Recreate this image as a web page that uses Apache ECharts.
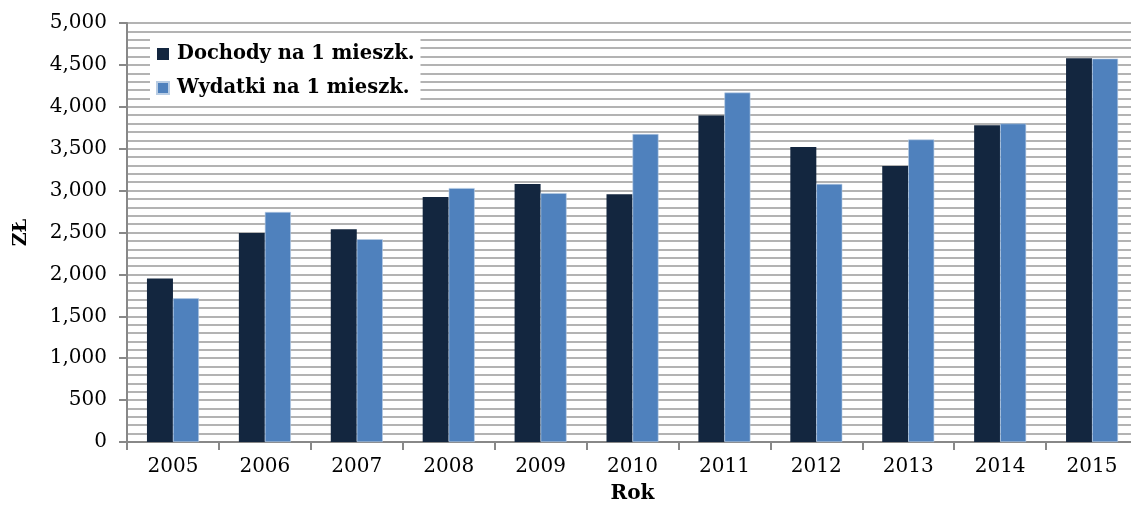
<!DOCTYPE html>
<html><head><meta charset="utf-8">
<script src="https://cdn.jsdelivr.net/npm/echarts@6/dist/echarts.min.js"></script>
<style>html,body{margin:0;padding:0;background:#fff}#c{width:1131px;height:506px}</style>
</head><body><div id="c"></div>
<script>
const categories = ['2005','2006','2007','2008','2009','2010','2011','2012','2013','2014','2015'];
const dochody = [1950, 2495, 2540, 2925, 3080, 2955, 3895, 3520, 3295, 3780, 4580];
const wydatki = [1715, 2745, 2420, 3030, 2970, 3675, 4170, 3080, 3610, 3800, 4575];
const seriesNames = ['Dochody na 1 mieszk.', 'Wydatki na 1 mieszk.'];
const FONT = 'DejaVu Serif';
const chart = echarts.init(document.getElementById('c'));
chart.setOption({
  animation: false,
  textStyle: {fontFamily: FONT},
  grid: {left: 127, top: 23, width: 1011, bottom: 64, outerBoundsMode: 'none', containLabel: false},
  legend: {
    orient: 'vertical', left: 150, top: 39, itemWidth: 12, itemHeight: 12, itemGap: 14,
    backgroundColor: '#fff', padding: [5, 6, 5, 6],
    textStyle: {fontFamily: FONT, fontSize: 19.5, fontWeight: 'bold', color: '#000', padding: [0, 0, 0, 3]},
    data: seriesNames.map(n => ({name: n, icon: 'rect'}))
  },
  xAxis: {
    type: 'category', data: categories, name: 'Rok', nameLocation: 'middle', nameGap: 42,
    nameTextStyle: {fontFamily: FONT, fontSize: 20, fontWeight: 'bold', color: '#000'},
    axisLine: {lineStyle: {color: '#888', width: 2}},
    axisTick: {show: true, length: 8, lineStyle: {color: '#888', width: 2}},
    axisLabel: {fontFamily: FONT, fontSize: 20, color: '#000', margin: 15}
  },
  yAxis: {
    type: 'value', min: 0, max: 5000, interval: 500,
    name: 'ZŁ', nameLocation: 'middle', nameGap: 96, nameRotate: 90,
    nameTextStyle: {fontFamily: FONT, fontSize: 19, fontWeight: 'bold', color: '#000'},
    axisLine: {show: true, lineStyle: {color: '#888', width: 2}},
    axisTick: {show: true, length: 8, lineStyle: {color: '#888', width: 2}},
    axisLabel: {fontFamily: FONT, fontSize: 20, color: '#000', margin: 20,
      formatter: v => v.toLocaleString('en-US')},
    splitLine: {lineStyle: {color: '#b3b3b3', width: 2}},
    minorTick: {show: false, splitNumber: 5},
    minorSplitLine: {show: true, lineStyle: {color: '#b3b3b3', width: 2}}
  },
  series: [
    {name: seriesNames[0], type: 'bar', data: dochody, barWidth: 26, barGap: '0%',
     itemStyle: {color: '#13263f'}},
    {name: seriesNames[1], type: 'bar', data: wydatki, barWidth: 26,
     itemStyle: {color: '#4f81bd', borderColor: '#b9cde4', borderWidth: 0.6}}
  ]
});
</script></body></html>
